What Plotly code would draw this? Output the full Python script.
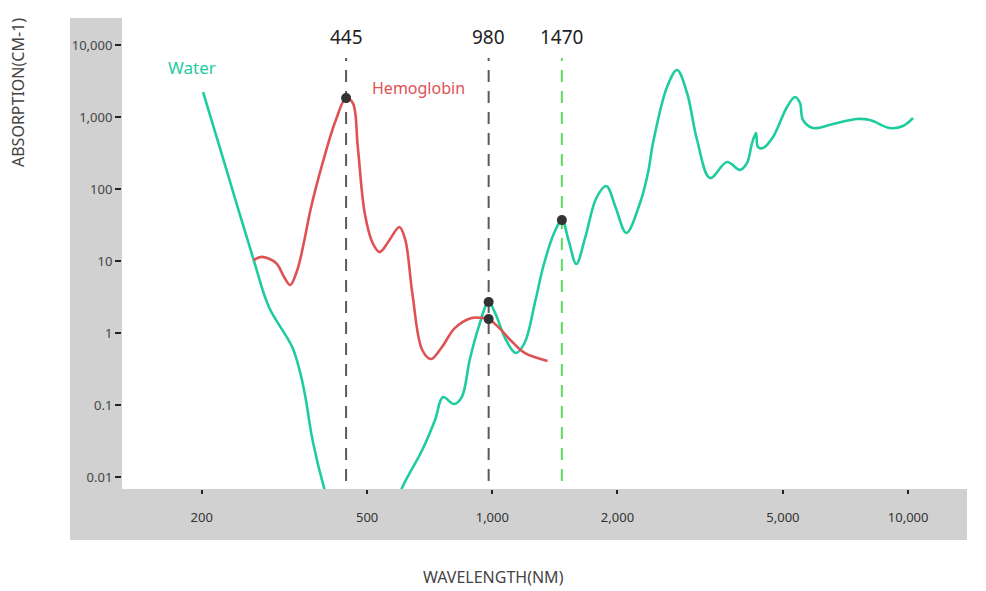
import numpy as np
import plotly.graph_objects as go

# ---------------- data ----------------
water_nm = [201.6, 231.8, 266.8, 290.2, 330.2, 345.3, 355.2, 369.5, 395.2, 413.3,
            500, 584.8, 607.8, 678.4, 728.2, 761.1, 807.9, 844.5, 882.2, 927.1,
            980, 1015.5, 1078.9, 1139, 1195.6, 1270.5, 1325.2, 1408, 1470, 1529,
            1592, 1674, 1779, 1880, 1978, 2101, 2266, 2368, 2435, 2632, 2782,
            2940, 3108, 3339, 3668, 3942, 4099, 4214, 4307, 4355, 4478,
            4733, 5114, 5346, 5495, 5587, 5906, 6598, 7537, 8095, 9048,
            9721, 10275]
water_abs = [2224, 151.6, 10.3, 2.30, 0.639, 0.278, 0.129, 0.0327, 0.00659, 0.00297,
             0.0008, 0.00408, 0.00726, 0.0237, 0.0619, 0.129, 0.103, 0.129, 0.422, 1.21,
             2.7, 1.90, 0.80, 0.528, 0.726, 2.87, 8.25, 24.5, 37, 18.4,
             9.09, 21.5, 75, 110, 56.2, 24.5, 63.9, 167, 435, 2610, 4496,
             2154, 479, 142, 237, 184, 230, 435, 599, 383, 371,
             528, 1377, 1896, 1565, 908, 703, 800, 938, 908, 703,
             750, 968]

hemo_nm = [266.8, 279.0, 301.9, 315.7, 326.5, 339.6, 353.3, 365.3, 390.8, 420.4, 445, 461.9,
           474.8, 493.3, 515.4, 535.8, 565.9, 597.8, 617.7, 642.1, 678.4, 712.7,
           756.8, 812.4, 892.0, 942.4, 980, 1040, 1105, 1196, 1358]
hemo_abs = [10.3, 11.4, 9.38, 6.0, 4.64, 7.5, 19.6, 51.1, 230, 908, 1830, 1565,
            383, 46.4, 17.8, 13.3, 19.6, 29.7, 19.6, 3.59, 0.581, 0.435,
            0.639, 1.17, 1.62, 1.62, 1.56, 1.17, 0.80, 0.528, 0.409]

marked_nm = [445, 980, 980, 1470]
marked_abs = [1830, 2.7, 1.56, 37]

ref_lines_nm = [445, 980, 1470]
ref_labels = ["445", "980", "1470"]

x_tickvals = [200, 500, 1000, 2000, 5000, 10000]
x_ticktext = ["200", "500", "1,000", "2,000", "5,000", "10,000"]
y_tickvals = [0.01, 0.1, 1, 10, 100, 1000, 10000]
y_ticktext = ["0.01", "0.1", "1", "10", "100", "1,000", "10,000"]

# ---------------- styling ----------------
WATER = "#1ecc9f"
HEMO = "#de5254"
FONT = "Noto Sans"
OFF = 8                      # page body margin of the html page
W, H = 986 - OFF, 591 - OFF  # figure size
ML, MR, MT, MB = 122 - OFF, 19, 18 - OFF, 102
PW, PH = W - ML - MR, H - MT - MB


def px2paper_x(px):
    """screen pixel (reference picture) -> paper fraction"""
    return (px - OFF - ML) / PW


def px2paper_y(py):
    return (H - MB - (py - OFF)) / PH


fig = go.Figure()

fig.add_trace(go.Scatter(x=water_nm, y=water_abs, mode="lines",
                         line=dict(color=WATER, width=2.6, shape="spline", smoothing=1.0),
                         hoverinfo="skip", showlegend=False))
fig.add_trace(go.Scatter(x=hemo_nm, y=hemo_abs, mode="lines",
                         line=dict(color=HEMO, width=2.6, shape="spline", smoothing=1.0),
                         hoverinfo="skip", showlegend=False))
fig.add_trace(go.Scatter(x=marked_nm, y=marked_abs, mode="markers",
                         marker=dict(color="#333333", size=10),
                         hoverinfo="skip", showlegend=False))

shapes = []
# page background card
shapes.append(dict(type="rect", xref="paper", yref="paper",
                   x0=px2paper_x(-20), x1=px2paper_x(982), y0=px2paper_y(620), y1=px2paper_y(0),
                   fillcolor="white", line=dict(width=0), layer="below"))
# grey axis band
shapes.append(dict(type="rect", xref="paper", yref="paper",
                   x0=px2paper_x(70), x1=1, y0=px2paper_y(540), y1=1,
                   fillcolor="#d1d1d1", line=dict(width=0), layer="below"))
# white plotting area
shapes.append(dict(type="rect", xref="paper", yref="paper",
                   x0=0, x1=1, y0=0, y1=1,
                   fillcolor="white", line=dict(width=0), layer="below"))

line_colors = ["#5a5a5a", "#5a5a5a", "#5edc5e"]
for nm, col in zip(ref_lines_nm, line_colors):
    shapes.append(dict(type="line", xref="x", yref="paper", x0=nm, x1=nm,
                       y0=px2paper_y(481), y1=px2paper_y(58),
                       line=dict(color=col, width=2, dash="12px,9px"), layer="below"))

annotations = []
for nm, lab in zip(ref_lines_nm, ref_labels):
    annotations.append(dict(x=np.log10(nm), y=px2paper_y(37), xref="x", yref="paper",
                            xanchor="center", yanchor="middle",
                            text=lab, showarrow=False,
                            font=dict(family=FONT, size=19, color="#222222")))
annotations.append(dict(x=px2paper_x(192), y=px2paper_y(68), xref="paper", yref="paper",
                        xanchor="center", yanchor="middle",
                        text="Water", showarrow=False,
                        font=dict(family=FONT, size=17, color=WATER)))
annotations.append(dict(x=px2paper_x(418), y=px2paper_y(88), xref="paper", yref="paper",
                        xanchor="center", yanchor="middle",
                        text="Hemoglobin", showarrow=False,
                        font=dict(family=FONT, size=16, color=HEMO)))
annotations.append(dict(x=px2paper_x(18), y=px2paper_y(93), xref="paper", yref="paper",
                        xanchor="center", yanchor="middle",
                        text="ABSORPTION(CM-1)", showarrow=False, textangle=-90,
                        font=dict(family=FONT, size=16, color="#444444")))
annotations.append(dict(x=px2paper_x(493), y=px2paper_y(577), xref="paper", yref="paper",
                        xanchor="center", yanchor="middle",
                        text="WAVELENGTH(NM)", showarrow=False,
                        font=dict(family=FONT, size=16, color="#444444")))

x_lo = (122 + 755.1) / 415.8
x_hi = (967 + 755.1) / 415.8

fig.update_layout(
    width=W, height=H, autosize=False,
    margin=dict(l=ML, r=MR, t=MT, b=MB, pad=0),
    paper_bgcolor="#eef1f4", plot_bgcolor="white",
    shapes=shapes, annotations=annotations,
    font=dict(family=FONT, size=13, color="#333333"),
    xaxis=dict(type="log", range=[x_lo, x_hi], showgrid=False, zeroline=False,
               showline=False, tickvals=x_tickvals, ticktext=x_ticktext,
               ticks="outside", ticklen=4, tickwidth=2, tickcolor="#222222",
               ticklabelstandoff=12,
               tickfont=dict(family=FONT, size=13, color="#333333")),
    yaxis=dict(type="log", range=[-2.1667, 4.375], showgrid=False, zeroline=False,
               showline=False, tickvals=y_tickvals, ticktext=y_ticktext,
               ticks="outside", ticklen=6, tickwidth=2, tickcolor="#222222",
               tickfont=dict(family=FONT, size=13, color="#444444")),
)

fig.write_html("out.html")
